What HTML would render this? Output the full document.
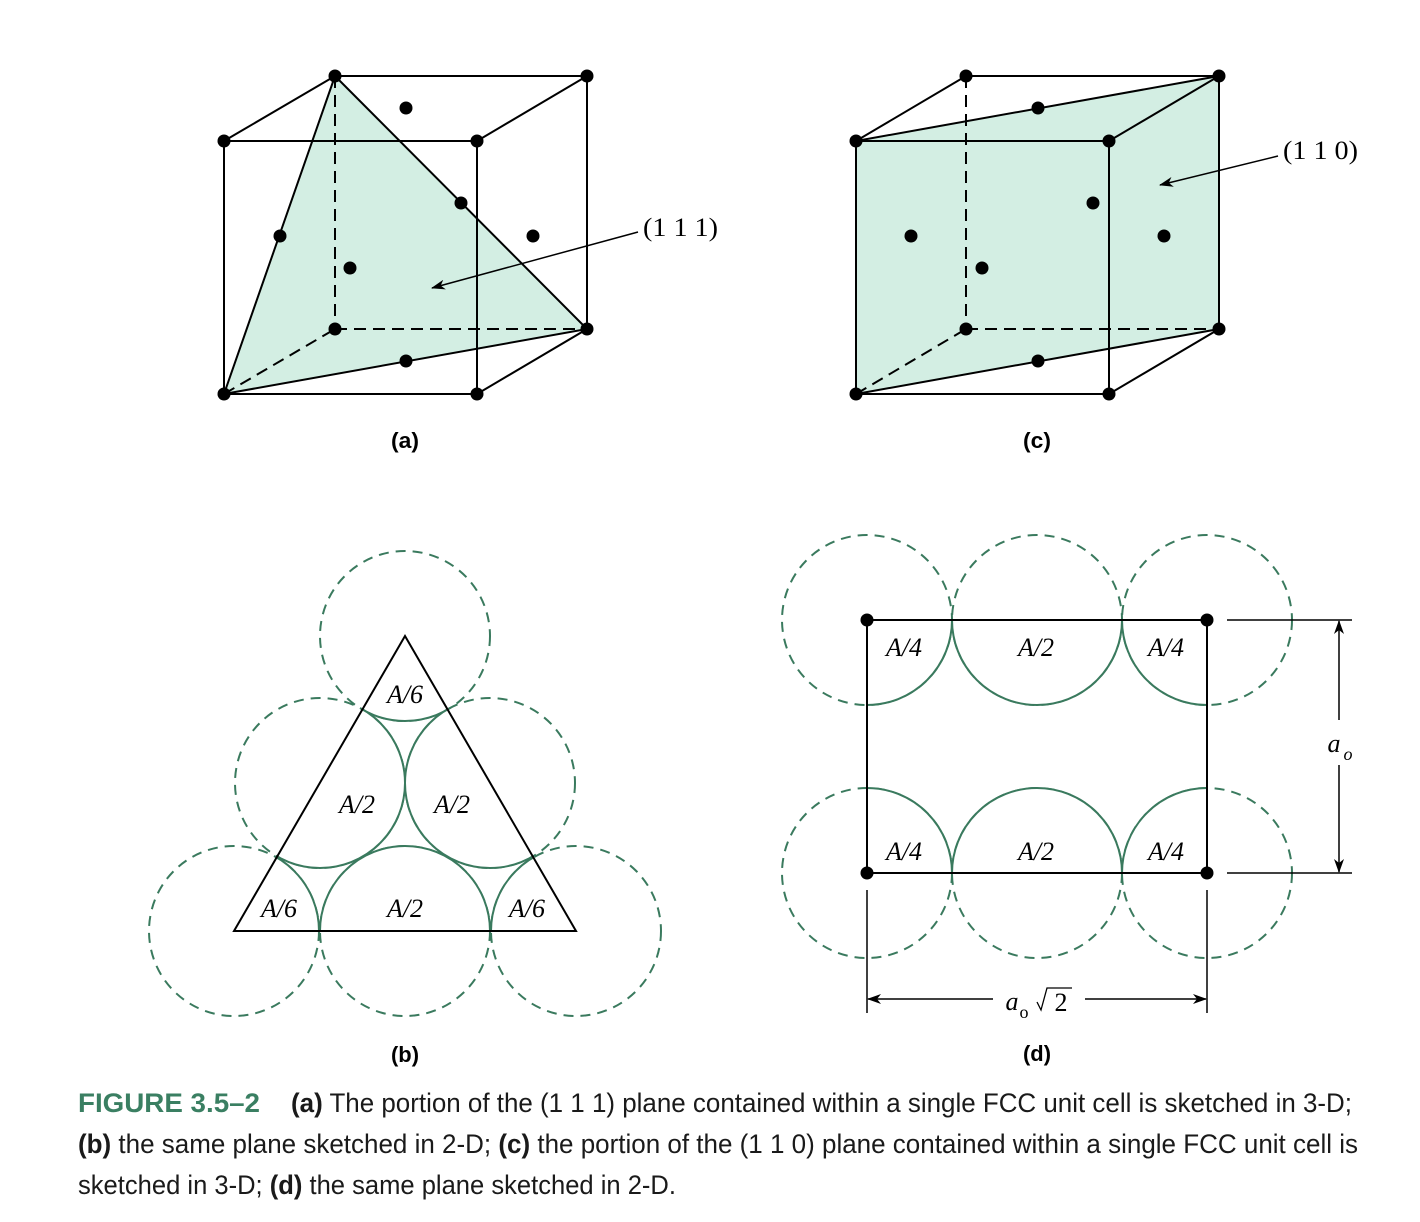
<!DOCTYPE html>
<html><head><meta charset="utf-8"><style>html,body{margin:0;padding:0;background:#fff}svg{display:block}</style></head>
<body>
<svg width="1420" height="1222" viewBox="0 0 1420 1222" xmlns="http://www.w3.org/2000/svg">
<defs>
<marker id="ah" markerWidth="14" markerHeight="10" refX="13" refY="5" orient="auto" markerUnits="userSpaceOnUse">
<path d="M0,0 L14,5 L0,10 L4,5 Z" fill="#000"/></marker>
<clipPath id="tri"><polygon points="234,931 576,931 405,636"/></clipPath>
<clipPath id="rect"><rect x="867" y="620" width="340" height="253"/></clipPath>
</defs>
<g stroke="#000" stroke-width="2" fill="none">
<polygon points="335,76 587,329 224,394" fill="#d3eee3" stroke="none"/>
<g stroke-dasharray="12,7"><line x1="335" y1="76" x2="335" y2="329"/><line x1="335" y1="329" x2="587" y2="329"/><line x1="224" y1="394" x2="335" y2="329"/></g>
<rect x="224" y="141" width="253" height="253"/>
<polyline points="224,141 335,76 587,76 477,141"/>
<polyline points="587,76 587,329 477,394"/>
<polygon points="335,76 587,329 224,394"/>
<line x1="638" y1="232" x2="432" y2="288" stroke-width="1.5" marker-end="url(#ah)"/>
<polygon points="856,141 1219,76 1219,329 856,394" fill="#d3eee3" stroke="none"/>
<g stroke-dasharray="12,7"><line x1="966" y1="76" x2="966" y2="329"/><line x1="966" y1="329" x2="1219" y2="329"/><line x1="856" y1="394" x2="966" y2="329"/></g>
<rect x="856" y="141" width="253" height="253"/>
<polyline points="856,141 966,76 1219,76 1109,141"/>
<polyline points="1219,76 1219,329 1109,394"/>
<polygon points="856,141 1219,76 1219,329 856,394"/>
<line x1="1278" y1="156" x2="1160" y2="185" stroke-width="1.5" marker-end="url(#ah)"/>
</g>
<g fill="#000">
<circle cx="224" cy="141" r="6.5"/><circle cx="477" cy="141" r="6.5"/><circle cx="224" cy="394" r="6.5"/><circle cx="477" cy="394" r="6.5"/>
<circle cx="335" cy="76" r="6.5"/><circle cx="587" cy="76" r="6.5"/><circle cx="335" cy="329" r="6.5"/><circle cx="587" cy="329" r="6.5"/>
<circle cx="406" cy="108" r="6.5"/><circle cx="461" cy="203" r="6.5"/><circle cx="280" cy="236" r="6.5"/><circle cx="533" cy="236" r="6.5"/><circle cx="350" cy="268" r="6.5"/><circle cx="406" cy="361" r="6.5"/>
<circle cx="856" cy="141" r="6.5"/><circle cx="1109" cy="141" r="6.5"/><circle cx="856" cy="394" r="6.5"/><circle cx="1109" cy="394" r="6.5"/>
<circle cx="966" cy="76" r="6.5"/><circle cx="1219" cy="76" r="6.5"/><circle cx="966" cy="329" r="6.5"/><circle cx="1219" cy="329" r="6.5"/>
<circle cx="1038" cy="108" r="6.5"/><circle cx="1093" cy="203" r="6.5"/><circle cx="911" cy="236" r="6.5"/><circle cx="1164" cy="236" r="6.5"/><circle cx="982" cy="268" r="6.5"/><circle cx="1038" cy="361" r="6.5"/>
</g>
<g font-family="Liberation Serif, serif" font-size="26" fill="#000">
<text x="643" y="236" textLength="75" lengthAdjust="spacingAndGlyphs">(1 1 1)</text>
<text x="1283" y="159" textLength="75" lengthAdjust="spacingAndGlyphs">(1 1 0)</text>
</g>
<g stroke="#3a7a5e" stroke-width="2" fill="none">
<g stroke-dasharray="10,7">
<circle cx="405" cy="636" r="85"/><circle cx="320" cy="783" r="85"/><circle cx="490" cy="783" r="85"/>
<circle cx="234" cy="931" r="85"/><circle cx="405" cy="931" r="85"/><circle cx="576" cy="931" r="85"/>
</g>
<g clip-path="url(#tri)" fill="#fff">
<circle cx="405" cy="636" r="85"/><circle cx="234" cy="931" r="85"/><circle cx="405" cy="931" r="85"/><circle cx="576" cy="931" r="85"/>
<circle cx="320" cy="783" r="85"/><circle cx="490" cy="783" r="85"/>
</g>
</g>
<polygon points="234,931 576,931 405,636" fill="none" stroke="#000" stroke-width="2"/>
<g stroke="#3a7a5e" stroke-width="2" fill="none">
<g stroke-dasharray="10,7">
<circle cx="867" cy="620" r="85"/><circle cx="1037" cy="620" r="85"/><circle cx="1207" cy="620" r="85"/>
<circle cx="867" cy="873" r="85"/><circle cx="1037" cy="873" r="85"/><circle cx="1207" cy="873" r="85"/>
</g>
<g clip-path="url(#rect)" fill="#fff">
<circle cx="867" cy="620" r="85"/><circle cx="1037" cy="620" r="85"/><circle cx="1207" cy="620" r="85"/>
<circle cx="867" cy="873" r="85"/><circle cx="1037" cy="873" r="85"/><circle cx="1207" cy="873" r="85"/>
</g>
</g>
<g stroke="#000" stroke-width="2" fill="none">
<rect x="867" y="620" width="340" height="253"/>
<line x1="1227" y1="620" x2="1352" y2="620" stroke-width="1.5"/>
<line x1="1227" y1="873" x2="1352" y2="873" stroke-width="1.5"/>
<line x1="1339" y1="720" x2="1339" y2="621" stroke-width="1.5" marker-end="url(#ah)"/>
<line x1="1339" y1="765" x2="1339" y2="872" stroke-width="1.5" marker-end="url(#ah)"/>
<line x1="867" y1="890" x2="867" y2="1013" stroke-width="1.5"/>
<line x1="1207" y1="890" x2="1207" y2="1013" stroke-width="1.5"/>
<line x1="993" y1="999" x2="868" y2="999" stroke-width="1.5" marker-end="url(#ah)"/>
<line x1="1085" y1="999" x2="1206" y2="999" stroke-width="1.5" marker-end="url(#ah)"/>
<polyline points="1037,1002 1041,1010 1047,988 1072,988" stroke-width="1.3"/>
</g>
<g fill="#000"><circle cx="867" cy="620" r="6.5"/><circle cx="1207" cy="620" r="6.5"/><circle cx="867" cy="873" r="6.5"/><circle cx="1207" cy="873" r="6.5"/></g>
<g font-family="Liberation Serif, serif" font-size="26" font-style="italic" fill="#000" text-anchor="middle">
<text x="405" y="703">A/6</text><text x="357" y="813">A/2</text><text x="452" y="813">A/2</text>
<text x="279" y="917">A/6</text><text x="405" y="917">A/2</text><text x="527" y="917">A/6</text>
<text x="904" y="656">A/4</text><text x="1036" y="656">A/2</text><text x="1166" y="656">A/4</text>
<text x="904" y="860">A/4</text><text x="1036" y="860">A/2</text><text x="1166" y="860">A/4</text>
<text x="1334" y="752">a</text><text x="1348" y="760" font-size="18">o</text>
<text x="1012" y="1010">a</text>
</g>
<text x="1024" y="1018" font-family="Liberation Serif, serif" font-size="18" text-anchor="middle">o</text>
<text x="1061" y="1011" font-family="Liberation Serif, serif" font-size="26" text-anchor="middle">2</text>
<g font-family="Liberation Sans, sans-serif" font-size="22" font-weight="bold" fill="#000" text-anchor="middle">
<text x="405" y="448" textLength="28" lengthAdjust="spacingAndGlyphs">(a)</text>
<text x="1037" y="448" textLength="28" lengthAdjust="spacingAndGlyphs">(c)</text>
<text x="405" y="1062" textLength="28" lengthAdjust="spacingAndGlyphs">(b)</text>
<text x="1037" y="1061" textLength="28" lengthAdjust="spacingAndGlyphs">(d)</text>
</g>
<g font-family="Liberation Sans, sans-serif" font-size="27" fill="#1a1a1a">
<text x="78" y="1112" font-weight="bold" fill="#3a7f62" textLength="182" lengthAdjust="spacingAndGlyphs">FIGURE 3.5–2</text>
<text x="291" y="1112" textLength="1061" lengthAdjust="spacingAndGlyphs"><tspan font-weight="bold">(a)</tspan> The portion of the (1 1 1) plane contained within a single FCC unit cell is sketched in 3-D;</text>
<text x="78" y="1153" textLength="1280" lengthAdjust="spacingAndGlyphs"><tspan font-weight="bold">(b)</tspan> the same plane sketched in 2-D; <tspan font-weight="bold">(c)</tspan> the portion of the (1 1 0) plane contained within a single FCC unit cell is</text>
<text x="78" y="1194" textLength="598" lengthAdjust="spacingAndGlyphs">sketched in 3-D; <tspan font-weight="bold">(d)</tspan> the same plane sketched in 2-D.</text>
</g>
</svg>
</body></html>
